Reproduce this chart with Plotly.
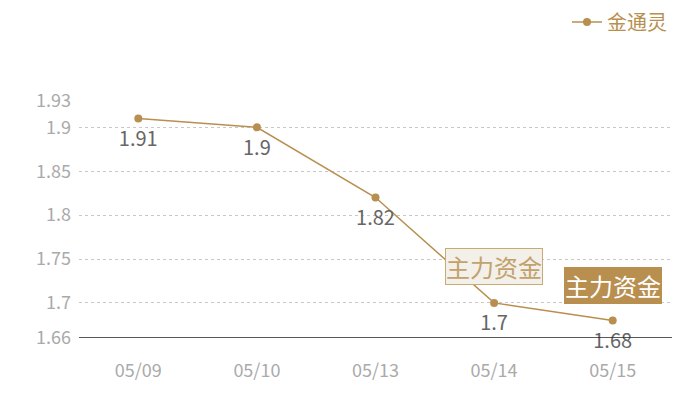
import plotly.graph_objects as go

categories = ["05/09", "05/10", "05/13", "05/14", "05/15"]
values = [1.91, 1.9, 1.82, 1.7, 1.68]
value_labels = ["1.91", "1.9", "1.82", "1.7", "1.68"]
tick_vals = [1.66, 1.7, 1.75, 1.8, 1.85, 1.9, 1.93]
tick_text = ["1.66", "1.7", "1.75", "1.8", "1.85", "1.9", "1.93"]
series_name = "金通灵"
note_text = "主力资金"

GOLD = "#b88f4f"
FONT = "Noto Sans CJK SC"

fig = go.Figure()
fig.add_trace(go.Scatter(
    x=categories, y=values, mode="lines+markers", name=series_name,
    line=dict(color=GOLD, width=1.5),
    marker=dict(color=GOLD, size=8),
    cliponaxis=False,
))
# value labels, offset below points
fig.add_trace(go.Scatter(
    x=categories, y=values, mode="markers+text", showlegend=False, hoverinfo="skip",
    marker=dict(color="rgba(0,0,0,0)", size=18),
    text=value_labels, textposition="bottom center",
    textfont=dict(color="#666666", size=20, family=FONT),
    cliponaxis=False,
))

fig.add_annotation(x=categories[3], y=values[3], xref="x", yref="y",
                   text=note_text, showarrow=False, yshift=36,
                   font=dict(color="#c2a26c", size=24, family=FONT),
                   bgcolor="#f3efe9", bordercolor="#c8aa74", borderwidth=1, borderpad=0)
fig.add_annotation(x=categories[4], y=values[4], xref="x", yref="y",
                   text=note_text, showarrow=False, yshift=35,
                   font=dict(color="#ffffff", size=24, family=FONT),
                   bgcolor="#b88f4f", bordercolor="#b88f4f", borderwidth=1, borderpad=0)

fig.update_layout(
    width=700, height=400,
    margin=dict(l=71, r=36, t=93, b=70),
    paper_bgcolor="white", plot_bgcolor="white",
    font=dict(family=FONT),
    showlegend=True,
    legend=dict(x=1.0, y=0.965, xref="paper", yref="container", xanchor="right", yanchor="middle",
                font=dict(color=GOLD, size=20, family=FONT), bgcolor="rgba(0,0,0,0)",
                itemwidth=30),
    xaxis=dict(type="category", range=[-0.5, 4.5], showgrid=False, showline=False,
               zeroline=False, ticks="", automargin=False,
               tickfont=dict(color="#aaaaaa", size=18, family=FONT),
               ticklabelstandoff=20),
    yaxis=dict(range=[1.66, 1.93], tickvals=tick_vals, ticktext=tick_text,
               showgrid=True, gridcolor="#c8c8c8", griddash="dot", gridwidth=1,
               zeroline=False, showline=False, ticks="", automargin=False,
               tickfont=dict(color="#aaaaaa", size=18, family=FONT),
               ticklabelstandoff=7),
)
fig.add_shape(type="line", xref="paper", yref="y", x0=0, x1=1, y0=1.66, y1=1.66,
              line=dict(color="#222222", width=1.3), layer="above")

fig.write_html("out.html")
